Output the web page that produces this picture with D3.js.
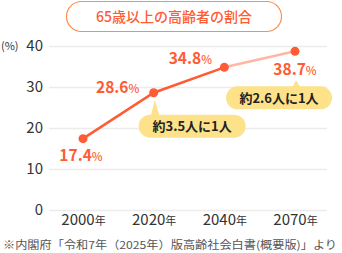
<!DOCTYPE html>
<html><head><meta charset="utf-8">
<script src="https://cdn.jsdelivr.net/npm/d3@7"></script>
<style>html,body{margin:0;padding:0;background:#fff;}svg{display:block;}</style>
</head><body>
<svg id="c" width="342" height="253"></svg>
<script>
const categories = ["2000年","2020年","2040年","2070年"];
const values = [17.4, 28.6, 34.8, 38.7];
const valueLabels = ["17.4","28.6","34.8","38.7"];
const yTicks = [0,10,20,30,40];
const callouts = [{i:1, text:"約3.5人に1人"},{i:3, text:"約2.6人に1人"}];
const title = "65歳以上の高齢者の割合";
const note = "※内閣府「令和7年（2025年）版高齢社会白書(概要版)」より";

const FONT = "'Noto Sans CJK JP','Noto Sans',sans-serif";
const ORANGE = "#ff5b35", PALE = "#ffb7a4", TXT = "#333";
const svg = d3.select("#c");

const x = d3.scalePoint().domain(categories).range([83,295]);
const y = d3.scaleLinear().domain([0,40]).range([210,46]);

// title
svg.append("rect").attr("x",66.5).attr("y",1.5).attr("width",215).attr("height",30).attr("rx",15)
  .attr("fill","#fff").attr("stroke","#ff8d4f").attr("stroke-width",1.2);
svg.append("text").attr("x",174).attr("y",22).attr("text-anchor","middle")
  .attr("font-family",FONT).attr("font-size",14).attr("font-weight",500).attr("fill",ORANGE).text(title);

// grid
const yAxis = d3.axisLeft(y).tickValues(yTicks).tickSize(-278).tickPadding(6);
const gy = svg.append("g").attr("transform","translate(49,0)").call(yAxis);
gy.select(".domain").remove();
gy.selectAll(".tick line").attr("stroke","#ececec").attr("stroke-width",1.5);
gy.selectAll(".tick text").attr("font-family",FONT).attr("font-size",15).attr("fill",TXT).attr("x",-6);
svg.append("text").attr("x",1).attr("y",y(40)+4).attr("font-family",FONT).attr("font-size",11).attr("fill",TXT).text("(%)");

// x axis labels
const xAxis = d3.axisBottom(x).tickSize(0).tickPadding(0);
const gx = svg.append("g").attr("transform","translate(0,216)").call(xAxis);
gx.select(".domain").remove();
gx.selectAll(".tick text").each(function(d){
  const t = d3.select(this); t.text(null).attr("font-family",FONT).attr("fill",TXT).attr("dy","0.85em");
  t.append("tspan").attr("font-size",15).text(d.replace("年",""));
  t.append("tspan").attr("font-size",11).text("年");
});

// lines
const pts = categories.map((c,i)=>[x(c), y(values[i])]);
const line = d3.line();
svg.append("path").attr("d",line(pts.slice(2))).attr("fill","none").attr("stroke",PALE).attr("stroke-width",2.5);
svg.append("path").attr("d",line(pts.slice(0,3))).attr("fill","none").attr("stroke",ORANGE).attr("stroke-width",2.5);
svg.selectAll("circle.p").data(pts).enter().append("circle").attr("cx",d=>d[0]).attr("cy",d=>d[1]).attr("r",4.5).attr("fill",ORANGE);

// callouts
const boxes = [{dx:-15, dy:22, w:107, h:23, tip:7},{dx:-69, dy:35, w:106, h:23, tip:29}];
callouts.forEach((c,k)=>{
  const px = pts[c.i][0], py = pts[c.i][1], b = boxes[k];
  const bx = px + b.dx, by = py + b.dy;
  svg.append("path").attr("d",`M${px+1},${py+b.tip} L${px-3},${by+2} L${px+6},${by+2} Z`).attr("fill","#fde28a");
  svg.append("rect").attr("x",bx).attr("y",by).attr("width",b.w).attr("height",b.h).attr("rx",11.5).attr("fill","#fde28a");
  svg.append("text").attr("x",bx+b.w/2).attr("y",by+16.5).attr("text-anchor","middle")
    .attr("font-family",FONT).attr("font-size",13).attr("font-weight",700).attr("fill","#222").text(c.text);
});

// value labels
const lblOff = [[-2,22],[-36,0],[-34,-3],[0,24]];
valueLabels.forEach((v,i)=>{
  const t = svg.append("text").attr("x",pts[i][0]+lblOff[i][0]).attr("y",pts[i][1]+lblOff[i][1])
    .attr("text-anchor","middle").attr("font-family",FONT).attr("font-weight",700).attr("fill",ORANGE);
  t.append("tspan").attr("font-size",15.5).text(v);
  t.append("tspan").attr("font-size",11.5).attr("font-weight",500).text("%");
});

// note
svg.append("text").attr("x",3).attr("y",249).attr("font-family",FONT).attr("font-size",11)
  .attr("fill","#555").attr("textLength",334).attr("lengthAdjust","spacingAndGlyphs").text(note);
</script>
</body></html>
